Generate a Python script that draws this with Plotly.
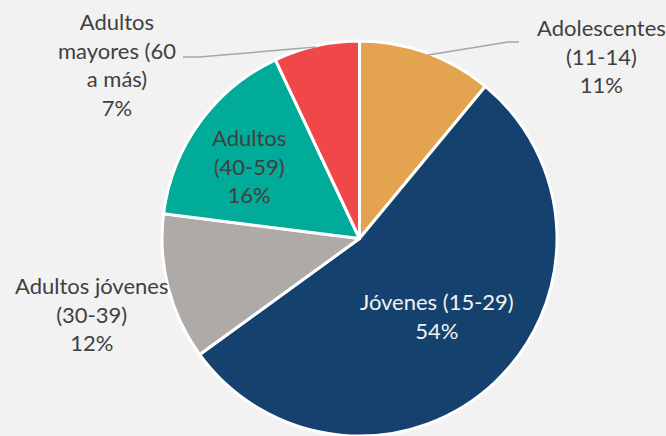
import plotly.graph_objects as go

categories = ["Adolescentes (11-14)", "Jóvenes (15-29)", "Adultos jóvenes (30-39)",
              "Adultos (40-59)", "Adultos mayores (60 a más)"]
label_lines = ["Adolescentes<br>(11-14)", "Jóvenes (15-29)", "Adultos jóvenes<br>(30-39)",
               "Adultos<br>(40-59)", "Adultos<br>mayores (60<br>a más)"]
values = [11, 54, 12, 16, 7]
colors = ["#E3A34F", "#15416E", "#AEAAA8", "#00AB99", "#F04848"]
text_colors = ["#404040", "#F2F2F2", "#404040", "#404040", "#404040"]

W, H = 666, 436
def px(x): return x / W
def py(y): return 1 - y / H

# label centers in pixels (x, y of block center)
label_pos = [(601, 56), (437, 316), (91, 314), (249, 166), (117, 64)]

fig = go.Figure(go.Pie(
    labels=categories, values=values, sort=False, direction="clockwise", rotation=0,
    marker=dict(colors=colors, line=dict(color="white", width=3)),
    textinfo="none", hoverinfo="label+percent", showlegend=False,
    domain=dict(x=[px(162), px(557)], y=[0, 395 / H]),
))

annotations = []
for lab, v, (x, y), c in zip(label_lines, values, label_pos, text_colors):
    annotations.append(dict(
        x=px(x), y=py(y), xref="paper", yref="paper", text=f"{lab}<br>{v}%",
        showarrow=False, xanchor="center", yanchor="middle", align="center",
        font=dict(family="Lato", size=22, color=c),
    ))

def path(pts):
    s = "M " + " L ".join(f"{px(a)},{py(b)}" for a, b in pts)
    return s

shapes = [
    dict(type="path", xref="paper", yref="paper",
         path=path([(428, 55), (508, 42), (519, 42)]),
         line=dict(color="#A6A6A6", width=1.5)),
    dict(type="path", xref="paper", yref="paper",
         path=path([(183, 57), (199, 57), (316, 47)]),
         line=dict(color="#A6A6A6", width=1.5)),
]

fig.update_layout(
    width=W, height=H, margin=dict(l=0, r=0, t=0, b=0),
    paper_bgcolor="#F2F2F2", plot_bgcolor="#F2F2F2",
    annotations=annotations, shapes=shapes,
)
fig.write_html("out.html")
